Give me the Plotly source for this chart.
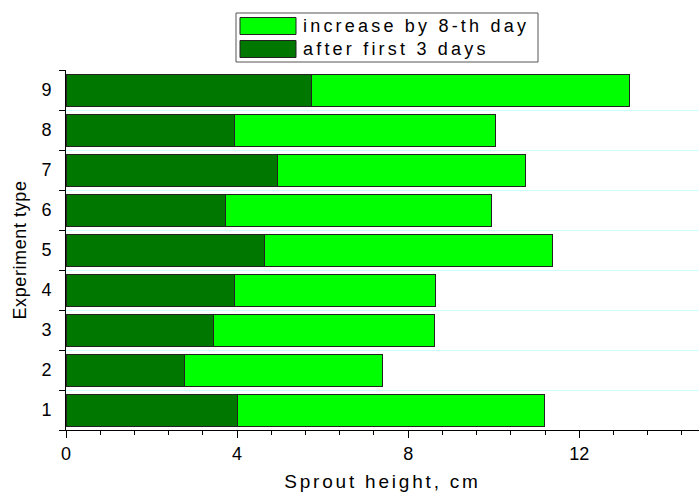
import plotly.graph_objects as go

categories = ["1", "2", "3", "4", "5", "6", "7", "8", "9"]
after_3_days = [4.01, 2.78, 3.46, 3.95, 4.65, 3.74, 4.94, 3.95, 5.73]
total_8th_day = [11.18, 7.39, 8.61, 8.65, 11.38, 9.96, 10.74, 10.04, 13.18]
increase_8th = [round(t - a, 2) for t, a in zip(total_8th_day, after_3_days)]
x_ticks = [0, 4, 8, 12]
series_names = ["after first 3 days", "increase by 8-th day"]
series_colors = ["#007800", "#00ff00"]

FONT = "Liberation Sans, Arial, sans-serif"
W, H = 699, 495
ML, MR, MT, MB = 66, 0, 70, 65
PW, PH = W - ML - MR, H - MT - MB


def px(x):
    return (x - ML) / PW


def py(y):
    return (H - MB - y) / PH


fig = go.Figure()
fig.add_trace(go.Bar(
    y=categories, x=after_3_days, orientation="h", name=series_names[0],
    marker=dict(color=series_colors[0], line=dict(color="#222222", width=1)),
    width=0.8, showlegend=False,
))
fig.add_trace(go.Bar(
    y=categories, x=increase_8th, orientation="h", name=series_names[1],
    marker=dict(color=series_colors[1], line=dict(color="#222222", width=1)),
    width=0.8, showlegend=False,
))

# legend (drawn as box + swatches + text)
shapes = [dict(type="rect", xref="paper", yref="paper",
               x0=px(236), x1=px(538), y0=py(62), y1=py(13),
               line=dict(color="#555555", width=1), fillcolor="white", layer="above")]
annotations = []
legend_rows = [(series_names[1], series_colors[1], 26), (series_names[0], series_colors[0], 49)]
for name, color, cy in legend_rows:
    shapes.append(dict(type="rect", xref="paper", yref="paper",
                       x0=px(240), x1=px(296), y0=py(cy + 8.5), y1=py(cy - 8.5),
                       line=dict(color="#222222", width=1), fillcolor=color, layer="above"))
    annotations.append(dict(text=name, xref="paper", yref="paper", x=px(301), y=py(cy),
                            xanchor="left", yanchor="middle", align="left", showarrow=False,
                            font=dict(size=18, family=FONT, color="black")))

fig.update_layout(
    width=W, height=H,
    barmode="stack",
    plot_bgcolor="white", paper_bgcolor="white",
    margin=dict(l=ML, r=MR, t=MT, b=MB, autoexpand=False),
    font=dict(family=FONT, size=16, color="black"),
    showlegend=False,
    shapes=shapes,
    annotations=annotations,
)
fig.update_xaxes(
    range=[0, 14.8], tickvals=x_ticks, ticktext=[str(v) for v in x_ticks],
    ticks="outside", ticklen=7, tickcolor="black", ticklabelstandoff=0,
    minor=dict(dtick=0.8, tick0=0, ticks="outside", ticklen=4, tickcolor="black", showgrid=False),
    showline=True, linecolor="black", linewidth=1,
    showgrid=False, zeroline=False, automargin=False,
    title=dict(text="Sprout height, cm", font=dict(size=19), standoff=12),
    tickfont=dict(size=18),
)
fig.update_yaxes(
    type="category", categoryorder="array", categoryarray=categories,
    tickson="boundaries", ticks="outside", ticklen=6, tickcolor="black",
    ticklabelstandoff=10,
    showline=True, linecolor="black", linewidth=1,
    showgrid=True, gridcolor="#ccffff", gridwidth=1, automargin=False,
    title=dict(text="Experiment type", font=dict(size=18), standoff=10),
    tickfont=dict(size=18),
)

post = (
    "var s=document.createElement('style');"
    "s.textContent='body{margin:0 !important;overflow:hidden;}"
    " .annotation-text{letter-spacing:3.2px;} .xtitle{letter-spacing:2.8px;}"
    " .ytitle{letter-spacing:0.6px;}';"
    "document.head.appendChild(s);"
)
fig.write_html("out.html", post_script=post, config={"displayModeBar": False})
